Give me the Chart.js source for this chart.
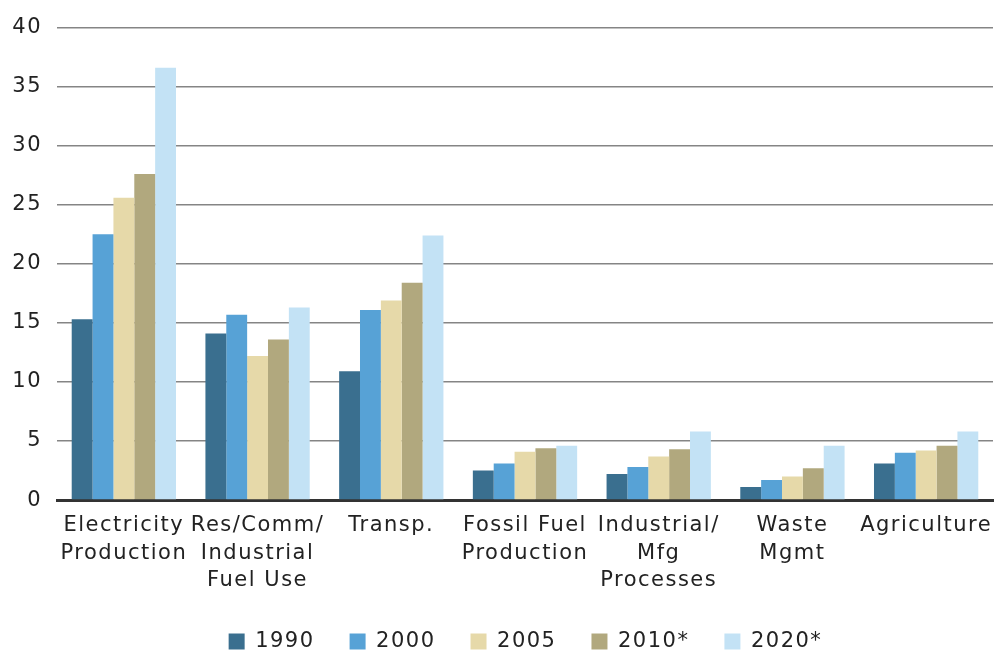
<!DOCTYPE html>
<html>
<head>
<meta charset="utf-8">
<script src="https://cdn.jsdelivr.net/npm/chart.js@4.4.1/dist/chart.umd.min.js"></script>
<style>
  html, body { margin: 0; padding: 0; background: #fff; }
  #wrap { width: 997px; height: 655px; position: relative; }
</style>
</head>
<body>
<div id="wrap"><canvas id="chart"></canvas></div>
<script>
// categories and series
const categories = [
    ['Electricity', 'Production'],
    ['Res/Comm/', 'Industrial', 'Fuel Use'],
    'Transp.',
    ['Fossil Fuel', 'Production'],
    ['Industrial/', 'Mfg', 'Processes'],
    ['Waste', 'Mgmt'],
    'Agriculture'
];
const seriesNames = ['1990', '2000', '2005', '2010*', '2020*'];
const v1990 = [15.3, 14.1, 10.9, 2.5, 2.2, 1.1, 3.1];
const v2000 = [22.5, 15.7, 16.1, 3.1, 2.8, 1.7, 4.0];
const v2005 = [25.6, 12.2, 16.9, 4.1, 3.7, 2.0, 4.2];
const v2010 = [27.6, 13.6, 18.4, 4.4, 4.3, 2.7, 4.6];
const v2020 = [36.6, 16.3, 22.4, 4.6, 5.8, 4.6, 5.8];
const yTicks = [0, 5, 10, 15, 20, 25, 30, 35, 40];

const colors = ['#3a6f8f', '#57a2d6', '#e6d9a9', '#b1a87e', '#c3e2f5'];
const allValues = [v1990, v2000, v2005, v2010, v2020];

const FONT = '"DejaVu Sans", "Open Sans", sans-serif';

// the source type is set wide; add a little tracking to every label
const tracking = {
    id: 'tracking',
    beforeUpdate(chart) { chart.ctx.letterSpacing = '1.5px'; },
    beforeDraw(chart) { chart.ctx.letterSpacing = '1.5px'; }
};

// legend keeps its wide item spacing but takes less room; nudge it into place
const legendNudge = {
    id: 'legendNudge',
    afterLayout(chart) {
        const L = chart.legend;
        const pad = L.options.labels.padding;
        L.top = chart.height - 24 - pad;
        L.bottom = L.top + 120;
        L.left += 29; L.right += 29;
    }
};

const ctx = document.getElementById('chart');
new Chart(ctx, {
    type: 'bar',
    data: {
        labels: categories,
        datasets: seriesNames.map((name, i) => ({
            label: name,
            data: allValues[i],
            backgroundColor: colors[i],
            borderWidth: 0,
            barPercentage: 1,
            categoryPercentage: 0.78
        }))
    },
    plugins: [tracking, legendNudge],
    options: {
        responsive: true, maintainAspectRatio: false,
        animation: false,
        layout: { padding: { top: 8, right: 4, bottom: 0, left: 0 } },
        plugins: {
            tooltip: { enabled: false },
            legend: {
                position: 'bottom',
                maxHeight: 57,
                labels: {
                    color: '#222',
                    font: { family: FONT, size: 21 },
                    boxWidth: 16, boxHeight: 16,
                    padding: 35
                }
            }
        },
        scales: {
            x: {
                grid: { display: false },
                border: { color: '#333', width: 3 },
                ticks: {
                    color: '#222', maxRotation: 0, autoSkip: false,
                    font: { family: FONT, size: 21, lineHeight: 1.3 },
                    padding: 4
                }
            },
            y: {
                min: 0, max: 40,
                afterBuildTicks: axis => { axis.ticks = yTicks.map(v => ({ value: v })); },
                afterFit: axis => { axis.width = 57; },
                grid: { color: '#858585', lineWidth: 1.6, drawTicks: false },
                border: { display: false },
                ticks: {
                    color: '#222', padding: 15,
                    font: { family: FONT, size: 21 }
                }
            }
        }
    }
});
</script>
</body>
</html>
